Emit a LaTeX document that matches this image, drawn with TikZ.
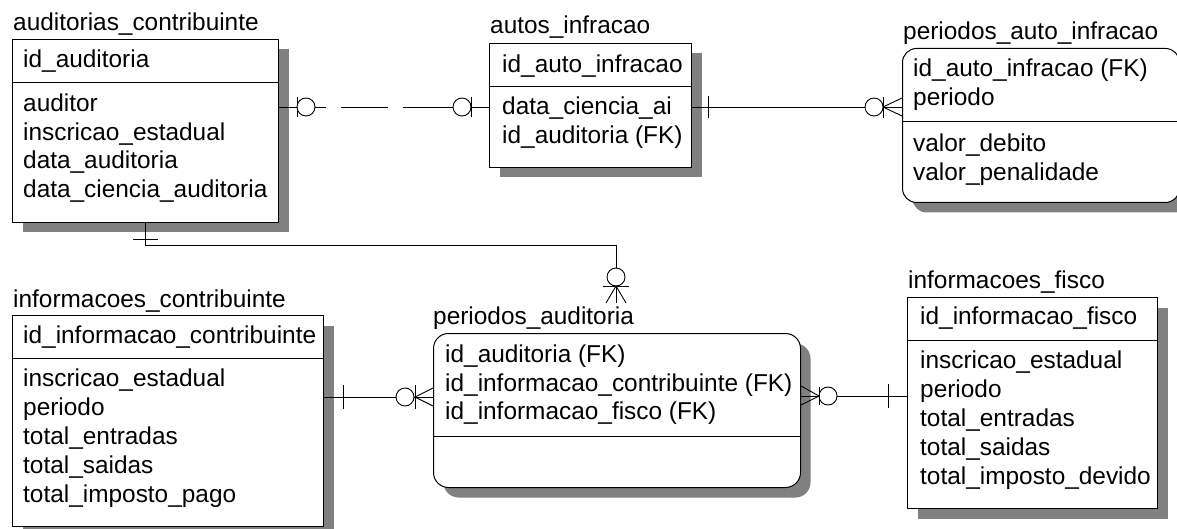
\documentclass[tikz,border=0pt]{standalone}
\usepackage{fontspec}
\setmainfont{Liberation Sans}
\usetikzlibrary{shadows,calc}
\definecolor{shadowgray}{RGB}{128,128,128}
\begin{document}
\begin{tikzpicture}[x=1pt,y=-1pt,
  ent/.style={draw=black, line width=1pt, fill=white, inner sep=0pt, anchor=north west,
     drop shadow={shadow xshift=10pt, shadow yshift=-10pt, opacity=1, fill=shadowgray, draw=none}},
  rent/.style={ent, rounded corners=14pt},
  txt/.style={anchor=base west, inner sep=0pt, font=\fontsize{24.4}{29}\selectfont},
  rel/.style={line width=0.9pt, draw=black},
  zero/.style={draw=black, line width=0.9pt, fill=white, circle, inner sep=0pt, minimum size=18pt},
  div/.style={line width=1pt}
]
\useasboundingbox (0,0) rectangle (1177,529);

% ---------- auditorias_contribuinte
\node[ent, minimum width=266pt, minimum height=183pt] (ac) at (12,39) {};
\draw[div] (ac.west |- 0,83) -- (ac.east |- 0,83);
\node[txt] (act) at (13,31) {auditorias\_contribuinte};
\node[txt] (ac1) at (23,68) {id\_auditoria};
\node[txt] (ac2) at (23,112) {auditor};
\node[txt] (ac3) at (23,141) {inscricao\_estadual};
\node[txt] (ac4) at (23,169) {data\_auditoria};
\node[txt] (ac5) at (23,198) {data\_ciencia\_auditoria};

% ---------- autos_infracao
\node[ent, minimum width=202pt, minimum height=124pt] (ai) at (489,43) {};
\draw[div] (ai.west |- 0,87) -- (ai.east |- 0,87);
\node[txt] (ait) at (490,34) {autos\_infracao};
\node[txt] (ai1) at (502,73) {id\_auto\_infracao};
\node[txt] (ai2) at (502,115) {data\_ciencia\_ai};
\node[txt] (ai3) at (502,144) {id\_auditoria (FK)};

% ---------- periodos_auto_infracao
\node[rent, minimum width=277pt, minimum height=154pt] (pai) at (902,48) {};
\draw[div] (pai.west |- 0,122) -- (pai.east |- 0,122);
\node[txt] (pait) at (903,40) {periodos\_auto\_infracao};
\node[txt] (pai1) at (913,77) {id\_auto\_infracao (FK)};
\node[txt] (pai2) at (913,106) {periodo};
\node[txt] (pai3) at (913,152) {valor\_debito};
\node[txt] (pai4) at (913,181) {valor\_penalidade};

% ---------- informacoes_contribuinte
\node[ent, minimum width=311pt, minimum height=211pt] (ic) at (12,315) {};
\draw[div] (ic.west |- 0,358) -- (ic.east |- 0,358);
\node[txt] (ict) at (13,307) {informacoes\_contribuinte};
\node[txt] (ic1) at (23,343) {id\_informacao\_contribuinte};
\node[txt] (ic2) at (23,386) {inscricao\_estadual};
\node[txt] (ic3) at (23,415) {periodo};
\node[txt] (ic4) at (23,444) {total\_entradas};
\node[txt] (ic5) at (23,473) {total\_saidas};
\node[txt] (ic6) at (23,502) {total\_imposto\_pago};

% ---------- periodos_auditoria
\node[rent, minimum width=367pt, minimum height=154pt, rounded corners=15pt] (pa) at (433,333) {};
\draw[div] (pa.west |- 0,436) -- (pa.east |- 0,436);
\node[txt] (pat) at (433,324) {periodos\_auditoria};
\node[txt] (pa1) at (445,362) {id\_auditoria (FK)};
\node[txt] (pa2) at (445,391) {id\_informacao\_contribuinte (FK)};
\node[txt] (pa3) at (445,419) {id\_informacao\_fisco (FK)};

% ---------- informacoes_fisco
\node[ent, minimum width=250pt, minimum height=211pt] (if) at (907,297) {};
\draw[div] (if.west |- 0,340) -- (if.east |- 0,340);
\node[txt] (ift) at (908,288) {informacoes\_fisco};
\node[txt] (if1) at (920,324) {id\_informacao\_fisco};
\node[txt] (if2) at (920,368) {inscricao\_estadual};
\node[txt] (if3) at (920,397) {periodo};
\node[txt] (if4) at (920,426) {total\_entradas};
\node[txt] (if5) at (920,455) {total\_saidas};
\node[txt] (if6) at (920,484) {total\_imposto\_devido};

% ---------- relationship 1: auditorias_contribuinte - autos_infracao (dashed, 0..1 both ends)
\coordinate (y1) at (0,107);
\draw[rel, dash pattern=on 47pt off 15pt on 47pt off 15pt on 300pt] (ac.east |- y1) -- (ai.west |- y1);
\draw[rel] (297,97) -- (297,117);
\node[zero] (z1a) at (306,107) {};
\node[zero] (z1b) at (462,107) {};
\draw[rel] (471,97) -- (471,117);

% ---------- relationship 2: autos_infracao - periodos_auto_infracao
\coordinate (y2) at (0,107);
\draw[rel] (ai.east |- y2) -- (pai.west |- y2);
\draw[rel] (708,96) -- (708,118);
\draw[rel] (pai.west |- 0,98) -- (883,107) -- (pai.west |- 0,116);
\node[zero] (z2) at (874,107) {};
\draw[rel] (883,97) -- (883,118);

% ---------- relationship 3: auditorias_contribuinte - periodos_auditoria
\coordinate (c3) at (616,303);
\draw[rel] (ac.south) -- (ac.south |- 0,245) -- (c3 |- 0,245) -- (c3);
\draw[rel] (133,239) -- (158,239);
\draw[rel] (606,303) -- (616,286) -- (626,303);
\node[zero] (z3) at (616,277) {};
\draw[rel] (603,286) -- (629,286);

% ---------- relationship 4: informacoes_contribuinte - periodos_auditoria
\coordinate (y4) at (0,397);
\draw[rel] (ic.east |- y4) -- (pa.west |- y4);
\draw[rel] (343,385) -- (343,409);
\draw[rel] (pa.west |- 0,388) -- (415,397) -- (pa.west |- 0,406);
\node[zero] (z4) at (405,397) {};
\draw[rel] (415,385) -- (415,409);

% ---------- relationship 5: periodos_auditoria - informacoes_fisco
\coordinate (y5) at (0,396);
\draw[rel] (pa.east |- y5) -- (if.west |- y5);
\draw[rel] (pa.east |- 0,386) -- (819,396) -- (pa.east |- 0,405);
\node[zero] (z5) at (828,396) {};
\draw[rel] (819,387) -- (819,405);
\draw[rel] (888,384) -- (888,408);
\end{tikzpicture}
\end{document}
